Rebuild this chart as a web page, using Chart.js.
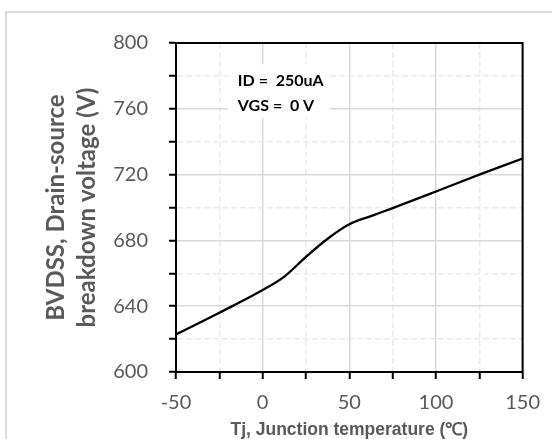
<!DOCTYPE html>
<html>
<head>
<meta charset="utf-8">
<script src="https://cdn.jsdelivr.net/npm/chart.js@4/dist/chart.umd.min.js"></script>
<style>
  html, body { margin: 0; padding: 0; background: #fff; }
  #wrap { width: 552px; height: 439px; }
</style>
</head>
<body>
<div id="wrap"><canvas id="c" width="552" height="439"></canvas></div>
<script>
// ---- data ----
const temps = [-50, -25, 0, 12.5, 25, 37.5, 50, 62.5, 75, 100, 125, 150];
const bvdss = [622.8, 636, 649.8, 658, 670, 681, 689.8, 694.8, 699.6, 709.7, 720, 729.8];
const xTickLabels = [-50, 0, 50, 100, 150];
const yTickLabels = [600, 640, 680, 720, 760, 800];
const yTitle = ['BVDSS, Drain-source', 'breakdown voltage (V)'];
const xTitle = 'Tj, Junction temperature (\u2103)';
const noteLines = ['ID =  250uA', 'VGS =  0 V'];

// ---- annotation placement (in data units) ----
const noteBox = { x0: -20, x1: 38.8, y0: 754.7, y1: 787 };
const noteText = { x: -14.3, y: [777.2, 762] };

const MAJOR = '#d9d9d9', MINOR = '#e9e9e9', LABEL = '#595959';

const framePlugin = {
  id: 'frame',
  beforeDraw(chart) {
    const ctx = chart.ctx;
    ctx.save();
    ctx.fillStyle = '#fff';
    ctx.fillRect(0, 0, chart.width, chart.height);
    ctx.strokeStyle = '#d9d9d9';
    ctx.lineWidth = 2;
    ctx.strokeRect(6, 12, chart.width + 20, chart.height + 20);
    ctx.restore();
  },
  beforeDatasetsDraw(chart) {
    const ctx = chart.ctx, xs = chart.scales.x, ys = chart.scales.y;
    ctx.save();
    ctx.fillStyle = '#fff';
    const bx0 = xs.getPixelForValue(noteBox.x0), bx1 = xs.getPixelForValue(noteBox.x1);
    const by0 = ys.getPixelForValue(noteBox.y1), by1 = ys.getPixelForValue(noteBox.y0);
    ctx.fillRect(bx0, by0, bx1 - bx0, by1 - by0);
    ctx.fillStyle = '#000';
    ctx.font = 'bold 16px Lato';
    ctx.textBaseline = 'middle';
    ctx.textAlign = 'left';
    noteLines.forEach((t, i) => {
      ctx.fillText(t, xs.getPixelForValue(noteText.x), ys.getPixelForValue(noteText.y[i]));
    });
    ctx.restore();
  },
  afterDraw(chart) {
    const a = chart.chartArea, ctx = chart.ctx;
    ctx.save();
    ctx.strokeStyle = '#000';
    ctx.lineWidth = 2;
    ctx.beginPath();
    ctx.moveTo(a.left, a.top);
    ctx.lineTo(a.right, a.top);
    ctx.lineTo(a.right, a.bottom);
    ctx.stroke();
    ctx.restore();
  }
};

new Chart(document.getElementById('c'), {
  type: 'line',
  data: {
    datasets: [{
      data: temps.map((t, i) => ({ x: t, y: bvdss[i] })),
      borderColor: '#000',
      borderWidth: 2.3,
      pointRadius: 0,
      fill: false,
      cubicInterpolationMode: 'monotone'
    }]
  },
  options: {
    responsive: false,
    animation: false,
    layout: { padding: { top: 43, right: 29, left: 0, bottom: 0 } },
    plugins: { legend: { display: false }, tooltip: { enabled: false } },
    scales: {
      x: {
        type: 'linear',
        min: -50, max: 150,
        afterFit(s) { s.height = 67; },
        ticks: {
          stepSize: 25, autoSkip: false, maxRotation: 0,
          color: LABEL, font: { family: 'Lato', size: 20 }, padding: 12,
          callback: v => xTickLabels.includes(v) ? String(v) : ''
        },
        grid: {
          color: c => (c.tick && c.tick.value % 50 === 0) ? MAJOR : MINOR,
          lineWidth: 1.5,
          tickColor: '#000', tickLength: 7, tickWidth: 2
        },
        border: {
          color: '#000', width: 2,
          dash: c => (c.tick && c.tick.value % 50 !== 0) ? [6, 3] : []
        },
        title: {
          display: true, text: xTitle, color: LABEL,
          font: { family: "Arial, 'Liberation Sans', sans-serif", size: 17.5, weight: 'bold', lineHeight: '18px' },
          padding: { top: 0, bottom: 0 }
        }
      },
      y: {
        type: 'linear',
        min: 600, max: 800,
        afterFit(s) { s.width = 176; },
        ticks: {
          stepSize: 20, autoSkip: false,
          color: LABEL, font: { family: 'Lato', size: 20 }, padding: 21,
          callback: v => yTickLabels.includes(v) ? String(v) : ''
        },
        grid: {
          color: c => (c.tick && c.tick.value % 40 === 0) ? MAJOR : MINOR,
          lineWidth: 1.5,
          tickColor: '#000', tickLength: 7, tickWidth: 2
        },
        border: {
          color: '#000', width: 2,
          dash: c => (c.tick && c.tick.value % 40 !== 0) ? [6, 3] : []
        },
        title: {
          display: true, text: yTitle, color: LABEL,
          font: { family: 'Lato', size: 24, weight: 'bold', lineHeight: '31px' },
          padding: { top: 41, bottom: 0 }
        }
      }
    }
  },
  plugins: [framePlugin]
});
</script>
</body>
</html>
